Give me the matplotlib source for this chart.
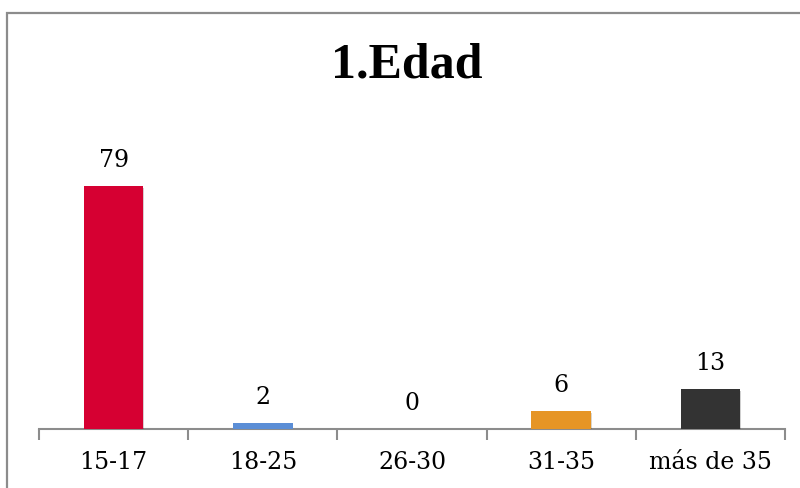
import matplotlib
matplotlib.use("Agg")
import matplotlib.pyplot as plt
import matplotlib.patheffects as pe
from matplotlib.patches import Rectangle

categories = ["15-17", "18-25", "26-30", "31-35", "más de 35"]
values = [79, 2, 0, 6, 13]
colors = ["#d60032", "#5b8ed6", "#5b8ed6", "#e69525", "#333333"]
title = "1.Edad"

fig = plt.figure(figsize=(8, 4.88), dpi=100)
W, H = 800, 488

# outer frame (only top and left edges fall inside the canvas)
fig.patches.append(Rectangle((7 / W, -0.1), 1.2, 1 - 13 / H + 0.1,
                             transform=fig.transFigure, fill=False,
                             edgecolor="#8c8c8c", linewidth=1.6))

ax = fig.add_axes([39 / W, (H - 429) / H, (785 - 39) / W, (429 - 152) / H])
x = list(range(len(categories)))
bars = ax.bar(x, values, width=0.4, color=colors, zorder=3)
for b in bars:
    b.set_path_effects([pe.SimplePatchShadow(offset=(0.6, -1.5), alpha=0.2),
                        pe.Normal()])

label_font = dict(family="DejaVu Serif", fontsize=17)
for xi, v in zip(x, values):
    ax.annotate(str(v), (xi, v), xytext=(0, 10), textcoords="offset points",
                ha="center", va="bottom", **label_font)

ax.set_xlim(-0.5, len(categories) - 0.5)
ax.set_ylim(0, 90)
ax.set_yticks([])
for s in ["top", "right", "left"]:
    ax.spines[s].set_visible(False)
ax.spines["bottom"].set_color("#8c8c8c")
ax.spines["bottom"].set_linewidth(1.5)

ax.set_xticks([i - 0.5 for i in range(len(categories) + 1)])
ax.set_xticklabels([])
ax.set_xticks(x, minor=True)
ax.set_xticklabels(categories, minor=True, **label_font)
ax.tick_params(axis="x", which="major", length=8, width=1.5, color="#8c8c8c",
               direction="out")
ax.tick_params(axis="x", which="minor", length=0, pad=16)

fig.text(407 / W, 1 - 66 / H, title, ha="center", va="center",
         family="Liberation Serif", fontweight="bold", fontsize=36)

fig.savefig("out.png", dpi=100)
